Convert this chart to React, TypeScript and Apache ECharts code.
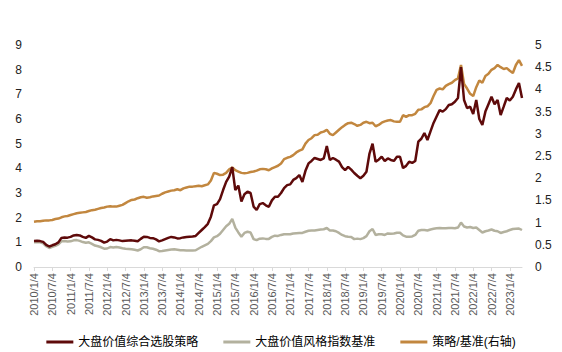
import React, { useEffect, useRef } from "react";
import * as echarts from "echarts";

// Monthly observations, 2010/1 .. 2023/5
const startYear = 2010;
const monthCount = 161;
const categories: string[] = [];
for (let k = 0; k < monthCount; k++) {
  const y = startYear + Math.floor(k / 12);
  const m = (k % 12) + 1;
  categories.push(`${y}/${m}/4`);
}

const strategyName = "大盘价值综合选股策略";
const benchmarkName = "大盘价值风格指数基准";
const ratioName = "策略/基准(右轴)";

const strategy = [
  1.05, 1.06, 1.05, 1.02, 0.9, 0.83, 0.88, 0.92, 1.0, 1.18, 1.2, 1.19,
  1.22, 1.28, 1.3, 1.28, 1.22, 1.18, 1.26, 1.2, 1.12, 1.1, 1.06, 0.99,
  1.03, 1.13, 1.08, 1.1, 1.08, 1.05, 1.06, 1.07, 1.08, 1.06, 1.04, 1.14,
  1.23, 1.22, 1.18, 1.17, 1.12, 1.04, 1.08, 1.13, 1.18, 1.22, 1.2, 1.16,
  1.17, 1.2, 1.22, 1.23, 1.24, 1.26, 1.38, 1.5, 1.62, 1.75, 2.04, 2.5,
  2.55, 2.75, 3.12, 3.45, 3.66, 4.05, 3.12, 3.3, 2.65, 2.95, 3.05, 3.0,
  2.45, 2.31, 2.55, 2.59, 2.5, 2.44, 2.7, 2.85, 2.85, 3.0, 3.2, 3.32,
  3.35, 3.53, 3.6, 3.73, 3.45, 3.9, 4.2, 4.3, 4.42, 4.38, 4.34, 4.4,
  4.9, 4.34, 4.42, 4.35, 4.27, 4.05, 3.93, 4.06, 3.95, 3.81, 3.7, 3.6,
  3.7, 3.86, 4.6, 5.0, 4.27, 4.35, 4.47, 4.3, 4.4, 4.34, 4.3, 4.47,
  4.47, 4.01, 4.1, 4.27, 4.22, 4.3, 5.08, 5.2, 5.43, 5.15, 5.5, 5.84,
  6.1, 6.36, 6.3, 6.4, 6.57, 6.6, 6.7, 6.85, 8.1, 6.77, 6.44, 6.5,
  6.2, 6.77, 6.0, 5.76, 6.3, 6.6, 6.9, 6.6, 6.77, 6.16, 6.5, 6.85,
  6.75, 6.9, 7.2, 7.46, 6.85,
];

const benchmark = [
  1.0, 1.01, 1.0, 0.96, 0.84, 0.77, 0.82, 0.86, 0.92, 1.04, 1.05, 1.03,
  1.04, 1.08, 1.09, 1.06, 1.01, 0.98, 1.0, 0.94, 0.87, 0.84, 0.8, 0.74,
  0.75, 0.81, 0.79, 0.81, 0.79, 0.76, 0.74, 0.73, 0.72, 0.7, 0.67, 0.72,
  0.8, 0.8, 0.76, 0.74, 0.7, 0.64, 0.65, 0.67, 0.69, 0.71, 0.72, 0.7,
  0.68, 0.68, 0.67, 0.67, 0.67, 0.68, 0.75, 0.82, 0.88, 0.94, 1.05, 1.2,
  1.25, 1.35, 1.5, 1.65, 1.75, 1.95, 1.6, 1.4, 1.23, 1.38, 1.43, 1.4,
  1.13, 1.09, 1.15, 1.16, 1.14, 1.14, 1.22, 1.27, 1.26, 1.3, 1.33, 1.33,
  1.33, 1.36, 1.37, 1.38, 1.38, 1.43, 1.47, 1.48, 1.48, 1.5, 1.52, 1.53,
  1.58, 1.48, 1.48, 1.45, 1.38, 1.3, 1.25, 1.23, 1.22, 1.13, 1.15, 1.13,
  1.17, 1.25, 1.45, 1.54, 1.3, 1.33, 1.33, 1.3, 1.36, 1.35, 1.36, 1.39,
  1.39, 1.28, 1.23, 1.23, 1.24, 1.3, 1.47, 1.5, 1.5, 1.48, 1.52, 1.55,
  1.57, 1.58, 1.57, 1.57, 1.58, 1.58, 1.57, 1.6, 1.8, 1.64, 1.6, 1.62,
  1.58, 1.6, 1.5, 1.4, 1.45, 1.48, 1.52, 1.47, 1.45, 1.38, 1.42, 1.45,
  1.5, 1.54, 1.55, 1.56, 1.5,
];

const ratio = [
  1.02, 1.03, 1.03, 1.04, 1.05, 1.05, 1.06, 1.08, 1.09, 1.12, 1.14, 1.15,
  1.17, 1.19, 1.21, 1.22, 1.23, 1.24, 1.26, 1.28, 1.29, 1.31, 1.33, 1.34,
  1.36, 1.37, 1.36, 1.36, 1.38, 1.4, 1.44, 1.48, 1.51, 1.52, 1.55, 1.57,
  1.58, 1.56, 1.57, 1.59, 1.6, 1.61, 1.65, 1.68, 1.7, 1.72, 1.73, 1.75,
  1.73, 1.77, 1.79, 1.81, 1.81, 1.82, 1.83, 1.82, 1.84, 1.86, 1.95, 2.12,
  2.1, 2.07, 2.08, 2.12, 2.2, 2.24, 2.18, 2.15, 2.12, 2.11, 2.12, 2.14,
  2.15, 2.17, 2.2, 2.21, 2.2, 2.18, 2.22, 2.25, 2.28, 2.33, 2.43, 2.46,
  2.48, 2.52, 2.58, 2.62, 2.65, 2.78, 2.86, 2.9, 2.97, 2.98, 3.03, 3.05,
  3.09, 3.0, 2.97, 3.03, 3.09, 3.15, 3.2, 3.24, 3.25, 3.22, 3.18, 3.2,
  3.25, 3.27, 3.24, 3.25, 3.17, 3.2, 3.25, 3.28, 3.3, 3.31, 3.28, 3.27,
  3.27, 3.42, 3.38, 3.42, 3.42, 3.45, 3.54, 3.55, 3.6, 3.62, 3.69, 3.85,
  3.99, 4.02, 4.0, 4.08, 4.12, 4.15, 4.21, 4.25, 4.55, 4.12, 4.02, 3.9,
  3.85, 4.05, 4.2, 4.15, 4.3, 4.35, 4.44, 4.48, 4.55, 4.5, 4.46, 4.48,
  4.42, 4.37, 4.55, 4.66, 4.53,
];

const FONT = "'Liberation Sans', Arial, 'Noto Sans CJK SC', sans-serif";

export default function App() {
  const ref = useRef<HTMLDivElement>(null);
  useEffect(() => {
    if (!ref.current) return;
    const chart = echarts.init(ref.current, undefined, { renderer: "svg" });
    chart.setOption({
      animation: false,
      textStyle: { fontFamily: FONT },
      grid: { left: 34, right: 40, top: 45, bottom: 85 },
      legend: {
        top: 331,
        left: "center",
        icon: "rect",
        itemWidth: 27,
        itemHeight: 3,
        itemGap: 25,
        textStyle: { fontSize: 12, color: "#000", fontFamily: FONT },
        data: [strategyName, benchmarkName, ratioName],
      },
      xAxis: {
        type: "category",
        data: categories,
        boundaryGap: false,
        axisLine: { lineStyle: { color: "#d9d9d9", width: 1 } },
        axisTick: { interval: 5, length: 4, lineStyle: { color: "#d9d9d9" } },
        axisLabel: {
          interval: 5,
          rotate: 90,
          fontSize: 11,
          color: "#595959",
          margin: 6,
        },
        splitLine: { show: false },
      },
      yAxis: [
        {
          type: "value",
          min: 0,
          max: 9,
          interval: 1,
          axisLine: { show: false },
          axisTick: { show: false },
          splitLine: { show: false },
          axisLabel: { fontSize: 12, color: "#222", margin: 12 },
        },
        {
          type: "value",
          min: 0,
          max: 5,
          interval: 0.5,
          axisLine: { show: false },
          axisTick: { show: false },
          splitLine: { show: false },
          axisLabel: { fontSize: 12, color: "#222", margin: 13 },
        },
      ],
      series: [
        {
          name: ratioName,
          type: "line",
          yAxisIndex: 1,
          data: ratio,
          symbol: "none",
          lineStyle: { color: "#C2873F", width: 2.5 },
          itemStyle: { color: "#C2873F" },
        },
        {
          name: benchmarkName,
          type: "line",
          yAxisIndex: 0,
          data: benchmark,
          symbol: "none",
          lineStyle: { color: "#B3B19E", width: 2.5 },
          itemStyle: { color: "#B3B19E" },
        },
        {
          name: strategyName,
          type: "line",
          yAxisIndex: 0,
          data: strategy,
          symbol: "none",
          lineStyle: { color: "#5E0A0A", width: 2.5 },
          itemStyle: { color: "#5E0A0A" },
        },
      ],
    });
    return () => chart.dispose();
  }, []);
  return (
    <div
      ref={ref}
      style={{ position: "fixed", left: 0, top: 0, width: 562, height: 352, background: "#fff" }}
    />
  );
}
